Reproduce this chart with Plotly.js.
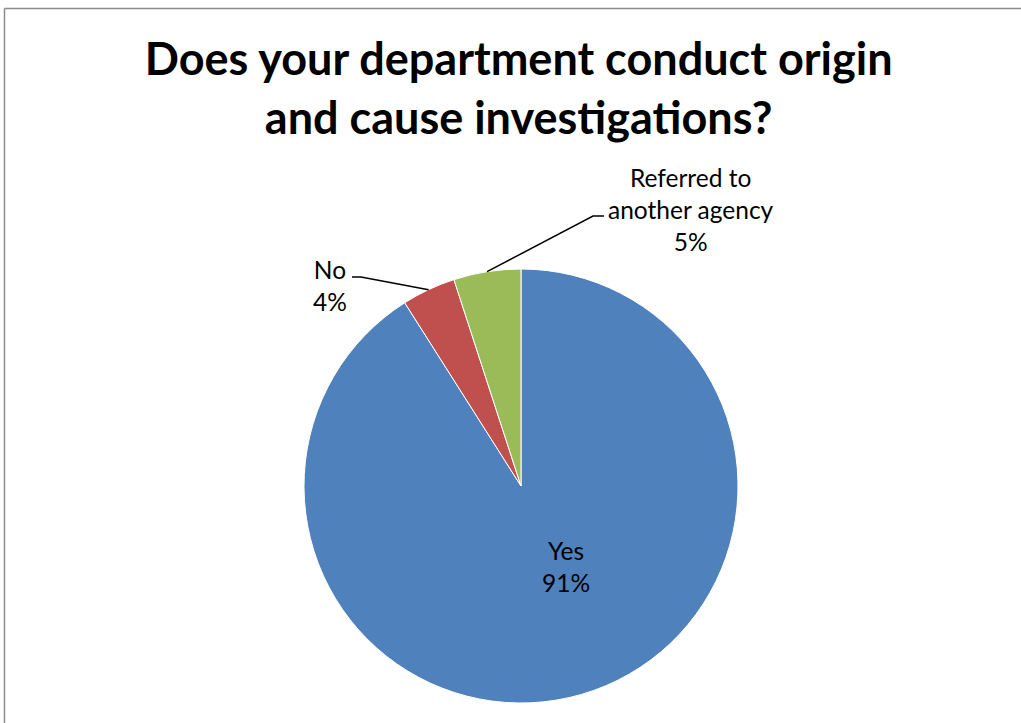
<!DOCTYPE html>
<html>
<head>
<meta charset="utf-8">
<script src="https://cdn.plot.ly/plotly-3.0.1.min.js"></script>
<style>html,body{margin:0;padding:0;background:#fff;}#chart{width:1021px;height:723px;}</style>
</head>
<body>
<div id="chart"></div>
<script>
// ---- data ----
const categories = ["Yes", "No", "Referred to<br>another agency"];
const values = [91, 4, 5];
const percentLabels = ["91%", "4%", "5%"];
const colors = ["#4F81BD", "#C0504D", "#9BBB59"];
const titleText = "Does your department conduct origin<br>and cause investigations?";

// ---- geometry (pixels) ----
const W = 1021, H = 723;
const cx = 521, cy = 486, R = 217;
const px = x => x / W;
const py = y => 1 - y / H;

const FONT = "Lato, 'Open Sans', sans-serif";

// label placement (pixels) per slice
const labelPos = [
  {x: 566, y: 566},
  {x: 330, y: 286},
  {x: 691, y: 209}
];
// leader elbows (pixels): [textSideX, elbowX, y]
const leaders = [
  null,
  {x0: 352, x1: 361, y: 277},
  {x0: 604, x1: 593, y: 216}
];

const total = values.reduce((a, b) => a + b, 0);
// slice mid-angle point (clockwise from 12 o'clock)
function midPoint(i, rf) {
  let cum = 0;
  for (let k = 0; k < i; k++) cum += values[k];
  const frac = (cum + values[i] / 2) / total;
  const a = frac * 2 * Math.PI;
  return {x: cx + rf * R * Math.sin(a), y: cy - rf * R * Math.cos(a)};
}

const annotations = categories.map((c, i) => ({
  xref: "paper", yref: "paper",
  x: px(labelPos[i].x), y: py(labelPos[i].y),
  xanchor: "center", yanchor: "middle",
  text: c + "<br>" + percentLabels[i],
  showarrow: false,
  font: {family: FONT, size: 24.5, color: "#000"},
  align: "center"
}));

const shapes = [];
leaders.forEach((L, i) => {
  if (!L) return;
  const p = midPoint(i, 1.0);
  shapes.push({
    type: "path", xref: "paper", yref: "paper",
    path: `M ${px(L.x0)} ${py(L.y)} L ${px(L.x1)} ${py(L.y)} L ${px(p.x)} ${py(p.y)}`,
    line: {color: "#000", width: 1.5}
  });
});
// chart frame (left and top edges)
shapes.push({type: "line", xref: "paper", yref: "paper", x0: px(4.5), y0: 0, x1: px(4.5), y1: py(8.5), line: {color: "#8c8c8c", width: 1.5}});
shapes.push({type: "line", xref: "paper", yref: "paper", x0: px(4.5), y0: py(8.5), x1: 1, y1: py(8.5), line: {color: "#8c8c8c", width: 1.5}});

const trace = {
  type: "pie",
  labels: categories,
  values: values,
  sort: false,
  direction: "clockwise",
  rotation: 0,
  marker: {colors: colors, line: {color: "#ffffff", width: 1}},
  textinfo: "none",
  hoverinfo: "label+percent",
  showlegend: false,
  domain: {x: [px(cx - R), px(cx + R)], y: [py(cy + R), py(cy - R)]}
};

const layout = {
  width: W, height: H,
  margin: {l: 0, r: 0, t: 0, b: 0},
  paper_bgcolor: "#ffffff",
  plot_bgcolor: "#ffffff",
  showlegend: false,
  title: {
    text: "<b>" + titleText + "</b>",
    font: {family: FONT, size: 45, color: "#000"},
    x: 0.508, xanchor: "center",
    y: py(75), yanchor: "middle"
  },
  annotations: annotations,
  shapes: shapes
};

Plotly.newPlot("chart", [trace], layout, {staticPlot: true});
</script>
</body>
</html>
